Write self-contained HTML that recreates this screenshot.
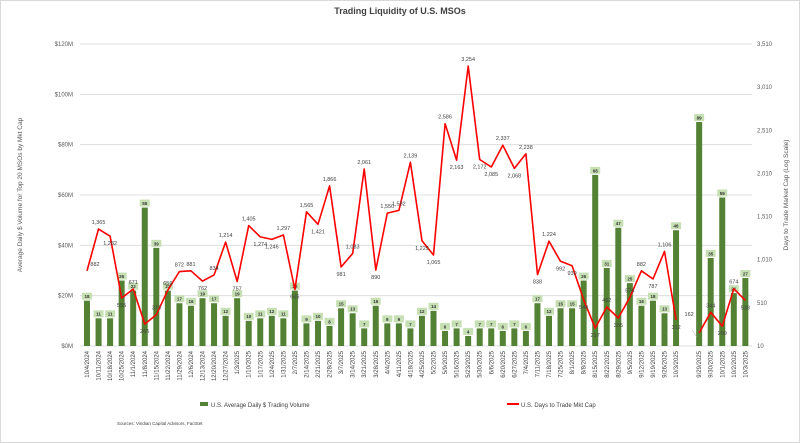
<!DOCTYPE html>
<html><head><meta charset="utf-8"><style>
html,body{margin:0;padding:0;background:#fff;}
svg{display:block;font-family:"Liberation Sans",sans-serif;}
</style></head><body>
<svg id="c" width="800" height="443" viewBox="0 0 800 443" xmlns="http://www.w3.org/2000/svg">
<rect x="0.5" y="0.5" width="799" height="442" fill="#fff" stroke="#d9d9d9"/>
<text x="400" y="14" text-anchor="middle" font-size="9" font-weight="bold" fill="#404040">Trading Liquidity of U.S. MSOs</text>
<text transform="translate(22,195) rotate(-90)" text-anchor="middle" font-size="6.5" fill="#595959">Average Daily $ Volume for Top 20 MSOs by Mkt Cap</text>
<text transform="translate(788,195) rotate(-90)" text-anchor="middle" font-size="6.5" fill="#595959">Days to Trade Market Cap (Log Scale)</text>
<g id="g"></g>
<rect x="200" y="402" width="8" height="4" fill="#548235"/>
<text x="211" y="407" font-size="6" fill="#404040">U.S. Average Daily $ Trading Volume</text>
<line x1="507" y1="404" x2="519" y2="404" stroke="#ff0000" stroke-width="2"/>
<text x="521" y="407" font-size="6" fill="#404040">U.S. Days to Trade Mkt Cap</text>
<text x="117" y="425" font-size="4.5" fill="#404040">Sources: Viridian Capital Advisors, FactSet</text>
</svg>
<script>
var g=document.getElementById('g'),h='';
var L=["10/4/2024","10/11/2024","10/18/2024","10/25/2024","11/1/2024","11/8/2024","11/15/2024","11/22/2024","11/29/2024","12/6/2024","12/13/2024","12/20/2024","12/27/2024","1/3/2025","1/10/2025","1/17/2025","1/24/2025","1/31/2025","2/7/2025","2/14/2025","2/21/2025","2/28/2025","3/7/2025","3/14/2025","3/21/2025","3/28/2025","4/4/2025","4/11/2025","4/18/2025","4/25/2025","5/2/2025","5/9/2025","5/16/2025","5/23/2025","5/30/2025","6/6/2025","6/20/2025","6/27/2025","7/4/2025","7/11/2025","7/18/2025","7/25/2025","8/1/2025","8/8/2025","8/15/2025","8/22/2025","8/29/2025","9/5/2025","9/12/2025","9/19/2025","9/26/2025","10/3/2025","","9/29/2025","9/30/2025","10/1/2025","10/2/2025","10/3/2025"];
var B=[18,11,11,26,22,55,39,22,17,16,19,17,12,19,10,11,12,11,22,9,10,8,15,13,7,16,9,9,7,12,14,6,7,4,7,7,6,7,6,17,12,15,15,26,68,31,47,25,16,18,13,46,null,89,35,59,21,27];
var D=[882,1365,1282,566,671,265,373,659,872,881,762,834,1214,757,1405,1274,1246,1297,665,1565,1421,1866,925,1083,2061,890,1550,1582,2139,1229,1065,2586,2163,3254,2172,2085,2337,2068,2238,838,1224,992,939,544,217,462,335,574,882,787,1106,312,null,162,400,240,674,538];
var DL=[882,1365,1282,555,671,265,373,659,872,881,762,834,1214,757,1405,1274,1246,1297,665,1565,1421,1866,981,1083,2061,890,1550,1582,2139,1229,1065,2586,2163,3254,2172,2085,2337,2068,2238,838,1224,992,939,544,217,462,335,574,882,787,1106,312,null,162,344,209,674,538];
function X(i){return 87+i*11.55;}
function Y(v){return 346-v*302/120;}
function R(v){return 346-(v-10)*302/3500;}
var lt=['$0M','$20M','$40M','$60M','$80M','$100M','$120M'];
var rt=['10','510','1,010','1,510','2,010','2,510','3,010','3,510'];
for(var k=0;k<7;k++){var y=Y(k*20);h+='<line x1="80" x2="752" y1="'+y+'" y2="'+y+'" stroke="#d9d9d9" stroke-width="0.8"/>';h+='<text x="73" y="'+(y+2)+'" text-anchor="end" font-size="6" fill="#595959">'+lt[k]+'</text>';}
for(var k=0;k<8;k++){var y=R(10+k*500);h+='<text x="757" y="'+(y+2)+'" font-size="6" fill="#595959">'+rt[k]+'</text>';}
for(var i=0;i<58;i++){var x=X(i);
 if(L[i])h+='<text transform="translate('+(x+2)+',351) rotate(-90)" text-anchor="end" font-size="6" fill="#404040">'+L[i]+'</text>';
 if(B[i]!=null){var y=Y(B[i]);h+='<rect x="'+(x-3)+'" y="'+y+'" width="6" height="'+(346-y)+'" fill="#548235"/>';
  h+='<rect x="'+(x-5)+'" y="'+(y-8)+'" width="10" height="7" fill="#c6e0b4"/><text x="'+x+'" y="'+(y-2.6)+'" text-anchor="middle" font-size="4.5" font-weight="bold" fill="#333">'+B[i]+'</text>';}}
var p='',start=true;for(var i=0;i<58;i++){if(D[i]==null){start=true;continue;}p+=(start?'M':'L')+X(i).toFixed(1)+','+R(D[i]).toFixed(1)+' ';start=false;}
h+='<path d="'+p+'" fill="none" stroke="#ff0000" stroke-width="1.6" stroke-linejoin="round"/>';
h+='<line x1="692" y1="330" x2="697" y2="337" stroke="#a6a6a6" stroke-width="0.5"/>';
for(var i=0;i<58;i++){if(DL[i]==null)continue;var y=R(D[i]);var up=(i==0||D[i-1]==null||D[i]>=D[i-1]);
 var s=DL[i].toLocaleString('en-US');var dx=(i==0?8:(i==53?-10:0));var dy=(i==53?-12:0);
 h+='<text x="'+(X(i)+dx)+'" y="'+((up?y-5:y+9)+dy)+'" text-anchor="middle" font-size="5.5" fill="#404040">'+s+'</text>';}
g.innerHTML=h;
</script>
</body></html>
